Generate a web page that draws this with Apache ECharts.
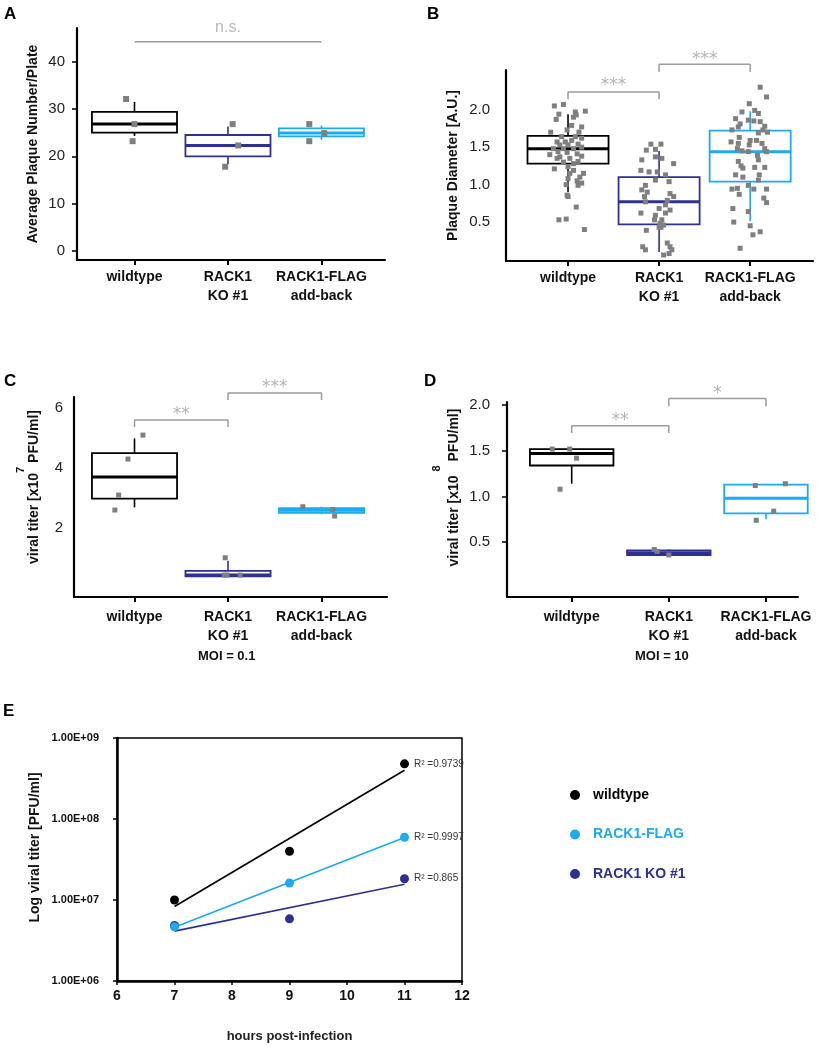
<!DOCTYPE html>
<html><head><meta charset="utf-8">
<script src="https://cdn.jsdelivr.net/npm/echarts@6/dist/echarts.min.js"></script>
<style>html,body{margin:0;padding:0;background:#fff}#c{width:818px;height:1049px}</style>
</head><body><div id="c"></div>
<script>
// ---------- data ----------
const categories = ['wildtype', 'RACK1\nKO #1', 'RACK1-FLAG\nadd-back'];
const groupColors = ['#000000', '#2e3192', '#1eaaf1'];

// box stats per group: [low whisker, Q1, median, Q3, high whisker]
const aStats = [[24.3, 25.0, 26.8, 29.4, 31.5], [18.3, 20.0, 22.3, 24.5, 26.3], [23.5, 24.2, 24.9, 25.9, 26.5]];
const aPoints = [[0.91, 32.1], [1.00, 26.8], [0.98, 23.2], [2.05, 26.8], [2.11, 22.3], [1.97, 17.8], [2.87, 26.8], [3.03, 24.9], [2.87, 23.2]];
const aYTicks = [0, 10, 20, 30, 40];

const bStats = [[0.90, 1.28, 1.48, 1.65, 1.94], [0.10, 0.47, 0.77, 1.10, 1.45], [0.51, 1.04, 1.44, 1.72, 1.98]];
const bWild = [[0.85,2.05],[0.95,2.07],[1.08,1.97],[1.19,1.98],[0.90,1.94],[0.87,1.87],[1.06,1.90],[1.09,1.93],[1.04,1.79],[1.15,1.77],[0.81,1.70],[0.99,1.73],[1.12,1.70],[0.93,1.64],[1.08,1.64],[1.15,1.62],[0.88,1.57],[0.97,1.57],[1.04,1.59],[0.91,1.53],[1.00,1.53],[1.11,1.54],[0.84,1.48],[0.95,1.48],[1.06,1.48],[1.15,1.50],[0.89,1.44],[0.99,1.43],[0.80,1.40],[1.10,1.41],[0.91,1.37],[1.15,1.38],[1.02,1.35],[0.88,1.35],[1.11,1.31],[0.95,1.30],[1.06,1.28],[1.00,1.24],[0.85,1.21],[1.06,1.19],[1.17,1.15],[1.02,1.15],[1.13,1.10],[1.00,1.08],[1.10,1.05],[1.15,1.02],[0.98,1.00],[1.11,0.99],[1.00,0.84],[0.99,0.86],[1.09,0.70],[0.90,0.53],[0.98,0.54],[1.18,0.40]];
const bKO = [[1.91,1.54],[2.02,1.54],[1.86,1.46],[1.96,1.47],[1.96,1.37],[1.81,1.33],[2.03,1.35],[2.16,1.28],[1.80,1.19],[1.89,1.17],[1.98,1.17],[2.07,1.13],[1.96,1.06],[2.11,1.04],[1.85,0.99],[1.81,0.93],[1.87,0.90],[2.12,0.88],[2.16,0.84],[1.84,0.84],[2.09,0.79],[1.85,0.77],[2.07,0.73],[2.00,0.68],[2.12,0.66],[1.80,0.62],[1.96,0.59],[2.07,0.62],[1.95,0.53],[2.01,0.48],[2.05,0.46],[2.00,0.43],[1.86,0.39],[1.82,0.17],[1.85,0.13],[2.09,0.22],[2.12,0.17],[2.05,0.06],[2.11,0.08],[2.14,0.13],[2.02,0.43],[2.03,0.53]];
const bFlag = [[3.11,2.30],[3.18,2.17],[2.99,2.08],[3.05,1.99],[2.91,1.97],[3.09,1.95],[2.84,1.88],[2.98,1.86],[3.04,1.85],[3.11,1.84],[2.89,1.81],[2.87,1.77],[3.16,1.78],[2.80,1.73],[3.14,1.73],[3.09,1.69],[3.19,1.70],[2.88,1.63],[2.79,1.57],[3.00,1.59],[3.07,1.59],[2.87,1.55],[3.13,1.55],[2.99,1.53],[2.86,1.48],[3.16,1.48],[2.91,1.45],[2.98,1.44],[3.08,1.39],[3.18,1.44],[3.09,1.33],[2.87,1.31],[2.90,1.25],[2.92,1.22],[3.05,1.23],[3.16,1.23],[2.84,1.13],[3.10,1.13],[2.92,1.10],[3.09,1.06],[2.98,0.99],[2.80,0.94],[2.86,0.95],[3.04,0.94],[3.18,0.94],[2.88,0.87],[3.15,0.82],[3.18,0.76],[2.81,0.68],[2.98,0.64],[2.82,0.50],[3.00,0.45],[3.11,0.37],[3.03,0.33],[2.89,0.15]];
const bYTicks = [0.5, 1.0, 1.5, 2.0];

const cStats = [[2.68, 2.97, 3.69, 4.49, 4.98], [0.38, 0.38, 0.42, 0.56, 0.90], [2.45, 2.50, 2.58, 2.65, 2.70]];
const cPoints = [[1.09, 5.09], [0.93, 4.29], [0.83, 3.09], [0.79, 2.59], [1.97, 1.00], [1.96, 0.42], [1.99, 0.42], [2.13, 0.42], [2.80, 2.70], [3.12, 2.61], [3.14, 2.39]];
const cYTicks = [2, 4, 6];

const dStats = [[1.14, 1.34, 1.47, 1.52, 1.52], [0.36, 0.36, 0.385, 0.41, 0.42], [0.75, 0.815, 0.98, 1.13, 1.13]];
const dPoints = [[0.80, 1.52], [0.98, 1.52], [1.05, 1.42], [0.88, 1.08], [1.85, 0.42], [1.88, 0.40], [2.00, 0.36], [2.89, 1.12], [3.20, 1.14], [3.08, 0.84], [2.90, 0.74]];
const dYTicks = [0.5, 1.0, 1.5, 2.0];

// significance annotations: [from, to, bracket top, tip end, text y, text]
const aSig = [[1, 3, 44.2, 44.2, 47.1, 'n.s.']];
const bSig = [[1, 2, 2.237, 2.14, 2.317, '***'], [2, 3, 2.607, 2.504, 2.673, '***']];
const cSig = [[1, 2, 5.59, 5.36, 5.79, '**'], [2, 3, 6.49, 6.26, 6.69, '***']];
const dSig = [[1, 2, 1.776, 1.695, 1.827, '**'], [2, 3, 2.072, 1.988, 2.127, '*']];

// panel E: growth curves
const eNames = ['wildtype', 'RACK1-FLAG', 'RACK1 KO #1'];
const eColors = ['#000000', '#1eaaf1', '#2e3192'];
const eWild = [[7, 1.0e7], [9, 4.0e7], [11, 4.8e8]];
const eFlag = [[7, 4.66e6], [9, 1.62e7], [11, 5.95e7]];
const eKO = [[7, 4.84e6], [9, 5.85e6], [11, 1.83e7]];
const eR2 = ['0.9739', '0.9997', '0.865'];
const eYTickLabels = ['1.00E+06', '1.00E+07', '1.00E+08', '1.00E+09'];

// ---------- helpers ----------
const FONT = "'Liberation Sans', Arial, Helvetica, sans-serif";

function boxSeries(gi, stats, frac) {
  return {
    type: 'custom', xAxisIndex: gi, yAxisIndex: gi, clip: false, silent: true, z: 2,
    data: stats.map((s, i) => [i + 1].concat(s)),
    encode: { x: 0, y: [1, 2, 3, 4, 5] },
    renderItem: function (params, api) {
      const x = api.value(0);
      const col = groupColors[params.dataIndex];
      const half = api.size([frac, 0])[0] / 2;
      const pLow = api.coord([x, api.value(1)]);
      const pQ1 = api.coord([x, api.value(2)]);
      const pMed = api.coord([x, api.value(3)]);
      const pQ3 = api.coord([x, api.value(4)]);
      const pHigh = api.coord([x, api.value(5)]);
      return { type: 'group', children: [
        { type: 'line', shape: { x1: pLow[0], y1: pLow[1], x2: pQ1[0], y2: pQ1[1] }, style: { stroke: col, lineWidth: 1.6 } },
        { type: 'line', shape: { x1: pQ3[0], y1: pQ3[1], x2: pHigh[0], y2: pHigh[1] }, style: { stroke: col, lineWidth: 1.6 } },
        { type: 'rect', shape: { x: pQ1[0] - half, y: pQ3[1], width: half * 2, height: pQ1[1] - pQ3[1] }, style: { fill: '#fff', stroke: col, lineWidth: 1.8 } },
        { type: 'line', shape: { x1: pMed[0] - half, y1: pMed[1], x2: pMed[0] + half, y2: pMed[1] }, style: { stroke: col, lineWidth: 3 } }
      ] };
    }
  };
}

function xCat(gi, min, max, margin) {
  return {
    gridIndex: gi, type: 'value', min: min, max: max,
    axisLine: { show: true, onZero: false, lineStyle: { color: '#000', width: 2.2 } },
    axisTick: { show: true, customValues: [1, 2, 3], length: 5, lineStyle: { color: '#000', width: 2 } },
    axisLabel: { customValues: [1, 2, 3], formatter: v => categories[Math.round(v) - 1], fontFamily: FONT, fontWeight: 'bold', fontSize: 14, lineHeight: 19, color: '#111', margin: margin },
    splitLine: { show: false }
  };
}

function yVal(gi, min, max, ticks, fmt, showTicks, margin, name, nameGap, nameStyle) {
  return {
    gridIndex: gi, type: 'value', min: min, max: max,
    axisLine: { show: true, onZero: false, lineStyle: { color: '#000', width: 2.2 } },
    axisTick: { show: showTicks, customValues: ticks, length: 5, lineStyle: { color: '#000', width: 1.5 } },
    axisLabel: { customValues: ticks, formatter: fmt, fontFamily: FONT, fontSize: 15, color: '#222', margin: margin },
    splitLine: { show: false },
    name: name, nameLocation: 'middle', nameGap: nameGap,
    nameTextStyle: Object.assign({ fontFamily: FONT, fontWeight: 'bold', fontSize: 14, color: '#111' }, nameStyle || {})
  };
}

function fitLine(pts) {
  const n = pts.length;
  const xs = pts.map(p => p[0]);
  const ys = pts.map(p => Math.log10(p[1]));
  const mx = xs.reduce((a, b) => a + b, 0) / n;
  const my = ys.reduce((a, b) => a + b, 0) / n;
  let sxy = 0, sxx = 0;
  for (let i = 0; i < n; i++) { sxy += (xs[i] - mx) * (ys[i] - my); sxx += (xs[i] - mx) ** 2; }
  const b = sxy / sxx, a = my - b * mx;
  const x0 = xs[0], x1 = xs[n - 1];
  return [[x0, Math.pow(10, a + b * x0)], [x1, Math.pow(10, a + b * x1)]];
}

// ---------- build ----------
const supRich = (raise) => ({
  a: { fontFamily: FONT, fontWeight: 'bold', fontSize: 14, color: '#111', verticalAlign: 'bottom', lineHeight: 16 },
  s: { fontFamily: FONT, fontWeight: 'bold', fontSize: 11, color: '#111', verticalAlign: 'top', lineHeight: raise }
});

const panels = [
  { g: 0, stats: aStats, pts: aPoints, frac: 0.91, size: 6, sig: aSig },
  { g: 1, stats: bStats, pts: bWild.concat(bKO, bFlag), frac: 0.89, size: 5, sig: bSig },
  { g: 2, stats: cStats, pts: cPoints, frac: 0.91, size: 5, sig: cSig },
  { g: 3, stats: dStats, pts: dPoints, frac: 0.86, size: 5, sig: dSig }
];

const series = [];
panels.forEach(p => {
  series.push(boxSeries(p.g, p.stats, p.frac));
  series.push({ type: 'scatter', xAxisIndex: p.g, yAxisIndex: p.g, symbol: 'rect', symbolSize: p.size, itemStyle: { color: '#7f7f7f', opacity: 1 }, data: p.pts, z: 3, silent: true });
  p.sig.forEach(s => {
    const ns = s[5] === 'n.s.';
    series.push({ type: 'line', xAxisIndex: p.g, yAxisIndex: p.g, clip: false, symbol: 'none', silent: true,
      lineStyle: { color: '#9c9c9c', width: 1.5 }, data: [[s[0], s[3]], [s[0], s[2]], [s[1], s[2]], [s[1], s[3]]] });
    series.push({ type: 'scatter', xAxisIndex: p.g, yAxisIndex: p.g, clip: false, silent: true, symbolSize: 1,
      itemStyle: { color: 'rgba(0,0,0,0)' },
      label: { show: true, position: 'inside', formatter: s[5], color: ns ? '#a8a8a8' : '#a0a0a0',
        fontFamily: ns ? FONT : "'DejaVu Sans', sans-serif", fontSize: ns ? 16 : 17 },
      data: [[(s[0] + s[1]) / 2, s[4]]] });
  });
});

// panel E
const eData = [eWild, eFlag, eKO];
const drawOrder = [0, 2, 1];
drawOrder.forEach(i => {
  series.push({ type: 'line', xAxisIndex: 4, yAxisIndex: 4, symbol: 'none', silent: true, name: eNames[i] + ' fit',
    lineStyle: { color: eColors[i], width: 1.6 }, data: fitLine(eData[i]), z: 2 });
});
drawOrder.forEach(i => {
  const pts = eData[i];
  series.push({ type: 'scatter', xAxisIndex: 4, yAxisIndex: 4, name: eNames[i], symbol: 'circle', symbolSize: 9,
    itemStyle: { color: eColors[i], opacity: 1 }, z: 4,
    data: pts.map((p, k) => k === pts.length - 1 ? { value: p, label: { show: true, position: 'right', distance: 5, formatter: 'R² =' + eR2[i], fontFamily: "'Liberation Sans Narrow', " + FONT, fontSize: 10, color: '#333' } } : p) });
});

const option = {
  animation: false,
  backgroundColor: '#fff',
  textStyle: { fontFamily: FONT },
  grid: [
    { left: 77, top: 28, width: 308, height: 232, outerBoundsMode: 'none' },
    { left: 506, top: 70, width: 307, height: 191, outerBoundsMode: 'none' },
    { left: 74, top: 397, width: 313, height: 200, outerBoundsMode: 'none' },
    { left: 507, top: 402, width: 291, height: 195, outerBoundsMode: 'none' },
    { left: 117, top: 738, width: 345, height: 243, show: true, borderColor: '#000', borderWidth: 1.5, outerBoundsMode: 'none' }
  ],
  xAxis: [
    xCat(0, 0.385, 3.68, 8),
    xCat(1, 0.319, 3.69, 8),
    xCat(2, 0.353, 3.70, 11),
    xCat(3, 0.334, 3.33, 11),
    { gridIndex: 4, type: 'value', min: 6, max: 12, interval: 1,
      axisLine: { show: true, onZero: false, lineStyle: { color: '#000', width: 2.5 } },
      axisTick: { show: true, length: 4, lineStyle: { color: '#000', width: 1.5 } },
      axisLabel: { fontFamily: FONT, fontWeight: 'bold', fontSize: 14, color: '#111', margin: 8 },
      splitLine: { show: false },
      name: 'hours post-infection', nameLocation: 'middle', nameGap: 49,
      nameTextStyle: { fontFamily: FONT, fontWeight: 'bold', fontSize: 13, color: '#222' } }
  ],
  yAxis: [
    yVal(0, -1.9, 47.1, aYTicks, v => String(v), true, 12, 'Average Plaque Number/Plate', 37),
    yVal(1, -0.02, 2.53, bYTicks, v => v.toFixed(1), false, 16, 'Plaque Diameter [A.U.]', 46),
    yVal(2, -0.31, 6.36, cYTicks, v => String(v), false, 11, '{a|viral titer [x10}{s|7}{a| PFU/ml]}', 33, { rich: supRich(26), padding: [0, 0, 0, 20] }),
    yVal(3, -0.1, 2.035, dYTicks, v => v.toFixed(1), true, 17, '{a|viral titer [x10 }{s|8}{a| PFU/ml]}', 46, { rich: supRich(30), padding: [0, 0, 0, 24] }),
    { gridIndex: 4, type: 'log', logBase: 10, min: 1e6, max: 1e9,
      axisLine: { show: true, onZero: false, lineStyle: { color: '#000', width: 2.5 } },
      axisTick: { show: true, length: 4, lineStyle: { color: '#000', width: 1.5 } },
      axisLabel: { fontFamily: FONT, fontWeight: 'bold', fontSize: 11, color: '#111', margin: 18,
        formatter: v => eYTickLabels[Math.round(Math.log10(v)) - 6] },
      splitLine: { show: false }, minorTick: { show: false },
      name: 'Log viral titer [PFU/ml]', nameLocation: 'middle', nameGap: 75,
      nameTextStyle: { fontFamily: FONT, fontWeight: 'bold', fontSize: 14, color: '#111', padding: [0, 0, 0, 24] } }
  ],
  legend: {
    orient: 'vertical', left: 565, top: 782, itemWidth: 10, itemHeight: 10, itemGap: 23.5, icon: 'circle',
    itemStyle: { opacity: 1 },
    textStyle: { fontFamily: FONT, fontWeight: 'bold', fontSize: 14, lineHeight: 16, padding: [0, 0, 0, 8] },
    data: eNames.map((n, i) => ({ name: n, textStyle: { color: eColors[i] } })),
    selectedMode: false
  },
  graphic: [
    { type: 'text', left: 4, top: 6, style: { text: 'A', font: 'bold 17px ' + FONT, fill: '#000' } },
    { type: 'text', left: 427, top: 6, style: { text: 'B', font: 'bold 17px ' + FONT, fill: '#000' } },
    { type: 'text', left: 4, top: 373, style: { text: 'C', font: 'bold 17px ' + FONT, fill: '#000' } },
    { type: 'text', left: 424, top: 373, style: { text: 'D', font: 'bold 17px ' + FONT, fill: '#000' } },
    { type: 'text', left: 3, top: 703, style: { text: 'E', font: 'bold 17px ' + FONT, fill: '#000' } },
    { type: 'text', left: 198, top: 650, style: { text: 'MOI = 0.1', font: 'bold 13px ' + FONT, fill: '#111' } },
    { type: 'text', left: 635, top: 650, style: { text: 'MOI = 10', font: 'bold 13px ' + FONT, fill: '#111' } }
  ],
  series: series
};

const chart = echarts.init(document.getElementById('c'), null, { renderer: 'canvas' });
chart.setOption(option);
</script>
</body></html>
